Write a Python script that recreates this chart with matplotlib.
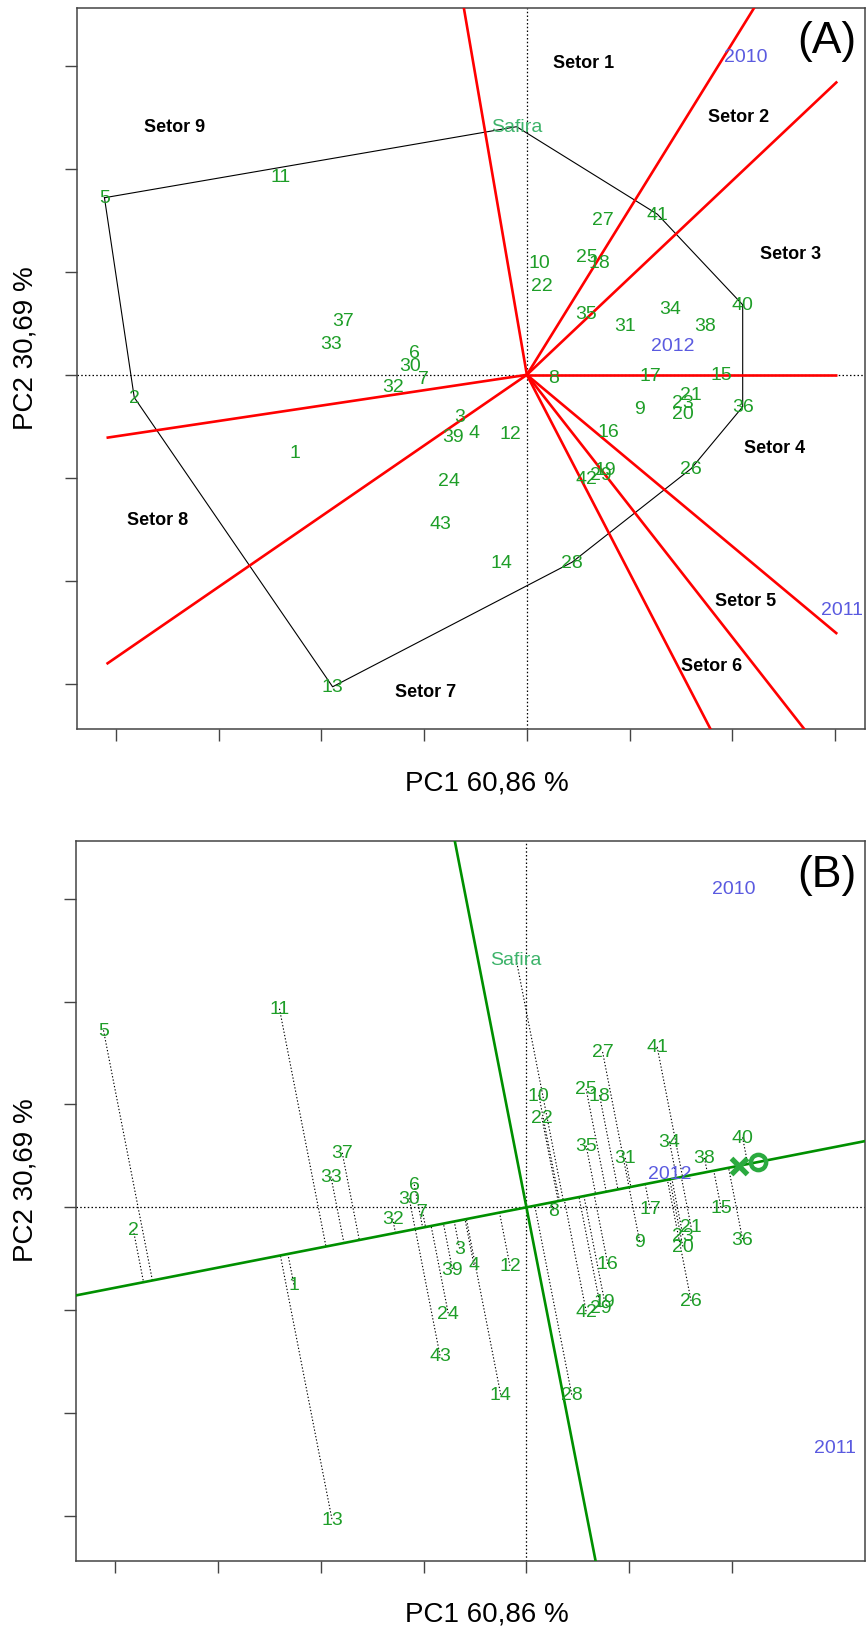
import numpy as np
import matplotlib
matplotlib.use("Agg")
import matplotlib.pyplot as plt

plt.rcParams['font.family'] = ['Liberation Sans', 'DejaVu Sans']

# ---------------- data (biplot scores) ----------------
gen_names = [str(i) for i in range(1, 44)] + ["Safira"]
gen_x = [-2.26, -3.82, -0.65, -0.51, -4.11, -1.09, -1.01, 0.26, 1.10, 0.12,
         -2.40, -0.16, -1.89, -0.25, 1.89, 0.79, 1.20, 0.71, 0.76, 1.52,
         1.60, 0.15, 1.52, -0.76, 0.58, 1.60, 0.74, 0.44, 0.72, -1.14,
         0.96, -1.30, -1.90, 1.39, 0.58, 2.10, -1.79, 1.73, -0.72, 2.10,
         1.27, 0.58, -0.84, -0.10]
gen_y = [-0.75, -0.22, -0.40, -0.56, 1.72, 0.22, -0.04, -0.03, -0.33, 1.09,
         1.93, -0.57, -3.03, -1.82, 0.00, -0.55, -0.01, 1.09, -0.92, -0.38,
         -0.19, 0.87, -0.27, -1.03, 1.15, -0.91, 1.51, -1.82, -0.97, 0.09,
         0.48, -0.11, 0.30, 0.64, 0.60, -0.31, 0.53, 0.48, -0.60, 0.68,
         1.56, -1.01, -1.44, 2.41]

env_names = ["2010", "2011", "2012"]
env_x_A = [2.13, 3.07, 1.42]
env_y_A = [3.09, -2.28, 0.28]
env_x_B = [2.01, 3.00, 1.39]
env_y_B = [3.10, -2.33, 0.33]

aec_point = [2.25, 0.44]   # average environment coordinate (panel B)

sector_names = ["Setor 1", "Setor 2", "Setor 3", "Setor 4", "Setor 5",
                "Setor 6", "Setor 7", "Setor 8", "Setor 9"]
sector_x = [0.55, 2.06, 2.57, 2.41, 2.13, 1.80, -0.99, -3.59, -3.43]
sector_y = [3.03, 2.51, 1.18, -0.71, -2.19, -2.82, -3.08, -1.41, 2.41]

x_ticks_A = [-4, -3, -2, -1, 0, 1, 2, 3]
x_ticks_B = [-4, -3, -2, -1, 0, 1, 2]
y_ticks = [-3, -2, -1, 0, 1, 2, 3]

xlabel = "PC1 60,86 %"
ylabel = "PC2 30,69 %"

# ---------------- styles ----------------
GEN_COL = '#1E9E28'
SAF_COL = '#3DB36A'
ENV_COL = '#5A5AE0'
AX_COL = '#444444'
XLIM = (-4.38, 3.29)
YLIM = (-3.44, 3.56)
XB = (-4.09, 3.02)   # extent of sector rays

gx = np.array(gen_x)
gy = np.array(gen_y)

W, H = 866, 1631
fig = plt.figure(figsize=(W / 100, H / 100), dpi=100)
axA = fig.add_axes([76.7 / W, 1 - 730 / H, (865 - 76.7) / W, (730 - 9.3) / H])
axB = fig.add_axes([75.7 / W, 1 - 1562.3 / H, (865 - 75.7) / W, (1562.3 - 842) / H])


def style_axes(ax, xt):
    ax.set_xlim(*XLIM)
    ax.set_ylim(*YLIM)
    ax.set_xticks(xt)
    ax.set_yticks(y_ticks)
    ax.set_xticklabels([])
    ax.set_yticklabels([])
    ax.tick_params(direction='out', length=8.5, width=1.0, color=AX_COL)
    for s in ax.spines.values():
        s.set_color(AX_COL)
        s.set_linewidth(1.1)
    ax.axhline(0, color='black', ls=(0, (1.2, 1.8)), lw=0.9, zorder=1)
    ax.axvline(0, color='black', ls=(0, (1.2, 1.8)), lw=0.9, zorder=1)


def draw_genotypes(ax):
    for n, x, y in zip(gen_names, gx, gy):
        col = SAF_COL if n == "Safira" else GEN_COL
        ax.text(x, y, n, color=col, fontsize=14, ha='center', va='center',
                zorder=5)


# ---------------- convex hull (monotone chain) ----------------
def convex_hull(px, py):
    pts = sorted(zip(px, py))

    def cross(o, a, b):
        return (a[0] - o[0]) * (b[1] - o[1]) - (a[1] - o[1]) * (b[0] - o[0])
    lower, upper = [], []
    for p in pts:
        while len(lower) >= 2 and cross(lower[-2], lower[-1], p) <= 0:
            lower.pop()
        lower.append(p)
    for p in reversed(pts):
        while len(upper) >= 2 and cross(upper[-2], upper[-1], p) <= 0:
            upper.pop()
        upper.append(p)
    return lower[:-1] + upper[:-1]


# ================= Panel A : which-won-where =================
style_axes(axA, x_ticks_A)
hull = convex_hull(gx, gy)
hx = [p[0] for p in hull] + [hull[0][0]]
hy = [p[1] for p in hull] + [hull[0][1]]
axA.plot(hx, hy, color='black', lw=0.8, zorder=2)

for i in range(len(hull)):
    P = np.array(hull[i])
    Q = np.array(hull[(i + 1) % len(hull)])
    e = Q - P
    foot = P - (P @ e) / (e @ e) * e
    d = foot / np.linalg.norm(foot)
    xb = XB[1] if d[0] > 0 else XB[0]
    t = xb / d[0] if abs(d[0]) > 1e-9 else 20
    axA.plot([0, t * d[0]], [0, t * d[1]], color='red', lw=1.9, zorder=3,
             solid_capstyle='butt')

for n, x, y in zip(sector_names, sector_x, sector_y):
    axA.text(x, y, n, fontsize=13, fontweight='bold', ha='center', va='center',
             color='black', zorder=6)

draw_genotypes(axA)
for n, x, y in zip(env_names, env_x_A, env_y_A):
    axA.text(x, y, n, color=ENV_COL, fontsize=14, ha='center', va='center',
             zorder=6)
axA.text(0.952, 0.955, "(A)", transform=axA.transAxes, fontsize=32,
         ha='center', va='center')

# ================= Panel B : mean vs stability =================
style_axes(axB, x_ticks_B)
u = np.array(aec_point) / np.linalg.norm(aec_point)
big = 20
axB.plot([-big * u[0], big * u[0]], [-big * u[1], big * u[1]],
         color='#009000', lw=1.9, zorder=3)
axB.plot([big * u[1], -big * u[1]], [-big * u[0], big * u[0]],
         color='#009000', lw=1.9, zorder=3)
for x, y in zip(gx, gy):
    s = x * u[0] + y * u[1]
    axB.plot([x, s * u[0]], [y, s * u[1]], color='black', lw=0.8,
             ls=(0, (1.2, 1.8)), zorder=2)
tip = np.array(aec_point)
arrow_pt = tip - 0.19 * u
axB.plot(arrow_pt[0], arrow_pt[1], marker='x', ms=12, mew=3.8,
         color='#2BAA3F', zorder=4)
axB.plot(tip[0], tip[1], marker='o', ms=11, mew=3.2, mfc='none',
         mec='#2BAA3F', zorder=4)

draw_genotypes(axB)
for n, x, y in zip(env_names, env_x_B, env_y_B):
    axB.text(x, y, n, color=ENV_COL, fontsize=14, ha='center', va='center',
             zorder=6)
axB.text(0.952, 0.954, "(B)", transform=axB.transAxes, fontsize=32,
         ha='center', va='center')

# ---------------- axis titles ----------------
for yc_x, yc_y in [(783.3, 348.3), (1615.0, 1180.0)]:
    fig.text(486.7 / W, 1 - yc_x / H, xlabel, fontsize=20, ha='center',
             va='center')
    fig.text(26 / W, 1 - yc_y / H, ylabel, fontsize=20, ha='center',
             va='center', rotation=90)

fig.savefig("out.png", dpi=100)
